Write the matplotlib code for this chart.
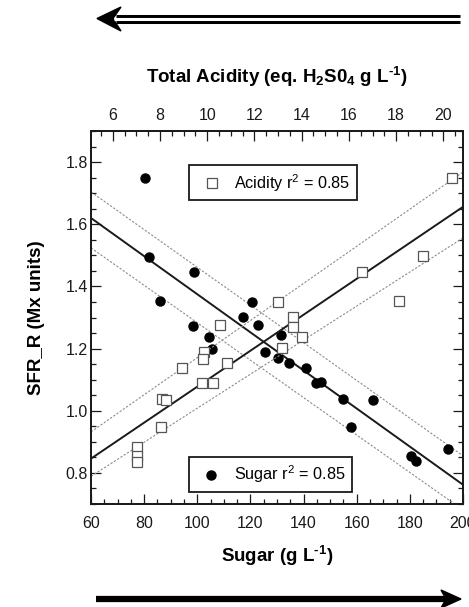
import matplotlib
matplotlib.use("Agg")
import matplotlib.pyplot as plt
from matplotlib.lines import Line2D
from matplotlib.patches import Polygon
from matplotlib.ticker import MultipleLocator, FormatStrFormatter

plt.rcParams['font.family'] = ['Liberation Sans', 'DejaVu Sans']
plt.rcParams['mathtext.fontset'] = 'custom'
plt.rcParams['mathtext.rm'] = 'Liberation Sans'
plt.rcParams['mathtext.it'] = 'Liberation Sans:italic'
plt.rcParams['mathtext.bf'] = 'Liberation Sans:bold'

# sugar (g/L) vs SFR_R -- filled circles
sugar_x = [80.3, 81.8, 98.8, 86.0, 120.6, 117.2, 122.9, 98.4, 104.4, 105.5, 125.5,
           131.5, 130.4, 134.5, 140.9, 144.6, 146.5, 154.8, 166.0, 157.9, 180.4, 182.3, 194.4]
sugar_y = [1.750, 1.495, 1.447, 1.354, 1.350, 1.302, 1.277, 1.273, 1.238, 1.200, 1.190,
           1.245, 1.170, 1.155, 1.139, 1.090, 1.093, 1.039, 1.036, 0.949, 0.856, 0.837, 0.876]

# total acidity vs SFR_R -- open squares
acid_x = [20.36, 19.14, 16.55, 18.12, 13.00, 13.63, 10.54, 13.63, 14.01, 13.17, 9.86,
          9.82, 8.93, 10.84, 9.78, 10.25, 8.09, 8.26, 8.04, 7.03, 7.03, 7.03]
acid_y = [1.749, 1.498, 1.447, 1.354, 1.350, 1.302, 1.275, 1.270, 1.238, 1.203, 1.190,
          1.168, 1.139, 1.155, 1.090, 1.090, 1.039, 1.036, 0.949, 0.882, 0.856, 0.834]

# regression lines and bands (end points)
sugar_fit_x = [60, 200]
sugar_fit_y = [1.620, 0.762]
sugar_hi_y = [1.704, 0.855]
sugar_lo_y = [1.524, 0.681]

acid_fit_x = [5.08, 20.83]
acid_fit_y = [0.846, 1.656]
acid_hi_y = [0.932, 1.768]
acid_lo_y = [0.789, 1.556]

W, H = 469, 607
fig = plt.figure(figsize=(W / 100, H / 100), dpi=100)
ax = fig.add_axes([91 / W, 103 / H, 372 / W, 373 / H])
ax2 = ax.twiny()

ink = '#1a1a1a'
band = '#8c8c8c'

ax.plot(sugar_fit_x, sugar_fit_y, color=ink, lw=1.4)
ax.plot(sugar_fit_x, sugar_hi_y, color=band, lw=0.8, ls=(0, (2, 1.5)))
ax.plot(sugar_fit_x, sugar_lo_y, color=band, lw=0.8, ls=(0, (2, 1.5)))
ax.plot(sugar_x, sugar_y, 'o', color='black', ms=6.5, zorder=3)

ax2.plot(acid_fit_x, acid_fit_y, color=ink, lw=1.4)
ax2.plot(acid_fit_x, acid_hi_y, color=band, lw=0.8, ls=(0, (2, 1.5)))
ax2.plot(acid_fit_x, acid_lo_y, color=band, lw=0.8, ls=(0, (2, 1.5)))
ax2.plot(acid_x, acid_y, 's', mfc='white', mec='#555555', mew=0.9, ms=6.7, zorder=3)

ax.set_xlim(60, 200)
ax.set_ylim(0.70, 1.90)
ax2.set_xlim(5.08, 20.83)

ax.xaxis.set_major_locator(MultipleLocator(20))
ax.xaxis.set_minor_locator(MultipleLocator(5))
ax.yaxis.set_major_locator(MultipleLocator(0.2))
ax.yaxis.set_minor_locator(MultipleLocator(0.05))
ax.yaxis.set_major_formatter(FormatStrFormatter('%.1f'))
ax2.xaxis.set_major_locator(MultipleLocator(2))
ax2.xaxis.set_minor_locator(MultipleLocator(0.5))

for a in (ax, ax2):
    for s in a.spines.values():
        s.set_linewidth(1.3)
        s.set_color(ink)
ax.tick_params(which='both', direction='in', right=True, top=False, color=ink,
               width=0.9, labelsize=11.5, labelcolor=ink)
ax.tick_params(axis='x', which='both', pad=9)
ax.tick_params(axis='y', which='both', pad=2)
ax.tick_params(which='major', length=7)
ax.tick_params(which='minor', length=3.5)
ax2.tick_params(which='both', direction='in', color=ink, width=0.9,
                labelsize=11.5, labelcolor=ink, pad=5.5)
ax2.tick_params(which='major', length=7)
ax2.tick_params(which='minor', length=3.5)

ax.set_xlabel('Sugar (g L$^{\\mathbf{\u20101}}$)', fontsize=13.5, fontweight='bold', labelpad=9)
ax.set_ylabel('SFR_R (Mx units)', fontsize=13.5, fontweight='bold', labelpad=15)
ax2.set_xlabel('Total Acidity (eq. H$_\\mathbf{2}$S0$_\\mathbf{4}$ g L$^{\\mathbf{\u20101}}$)',
               fontsize=13.5, fontweight='bold', labelpad=18)

sq = Line2D([], [], marker='s', mfc='white', mec='#555555', mew=0.9, ms=6.7, ls='none')
dot = Line2D([], [], marker='o', color='black', ms=6.5, ls='none')
leg_kw = dict(fontsize=11.7, frameon=True, fancybox=False, framealpha=1,
              edgecolor=ink, borderpad=0.4, handletextpad=0.4, handlelength=2.0,
              borderaxespad=0)
leg1 = ax2.legend([sq], ['Acidity r$^2$ = 0.85'], loc='center',
                  bbox_to_anchor=(0.489, 0.861), **leg_kw)
leg1.get_frame().set_linewidth(1.3)
ax2.add_artist(leg1)
leg2 = ax2.legend([dot], ['Sugar r$^2$ = 0.85'], loc='center',
                  bbox_to_anchor=(0.4825, 0.079), **leg_kw)
leg2.get_frame().set_linewidth(1.3)


def px(x, y):
    return (x / W, 1 - y / H)


# top arrow: hollow double shaft pointing left
fig.add_artist(Line2D([px(116, 0)[0], px(460, 0)[0]], [px(0, 18.5)[1]] * 2,
                      transform=fig.transFigure, color='black', lw=6.5, solid_capstyle='butt'))
fig.add_artist(Line2D([px(114, 0)[0], px(462, 0)[0]], [px(0, 18.5)[1]] * 2,
                      transform=fig.transFigure, color='white', lw=2.2, solid_capstyle='butt'))
fig.add_artist(Polygon([px(97, 18.5), px(121, 7), px(113, 18.5), px(121, 31)],
                       closed=True, transform=fig.transFigure, color='black'))

# bottom arrow: solid shaft pointing right
fig.add_artist(Line2D([px(96, 0)[0], px(447, 0)[0]], [px(0, 599)[1]] * 2,
                      transform=fig.transFigure, color='black', lw=4.5, solid_capstyle='butt'))
fig.add_artist(Polygon([px(461, 599), px(441, 590), px(446, 599), px(441, 608)],
                       closed=True, transform=fig.transFigure, color='black'))

fig.savefig('out.png', dpi=100)
